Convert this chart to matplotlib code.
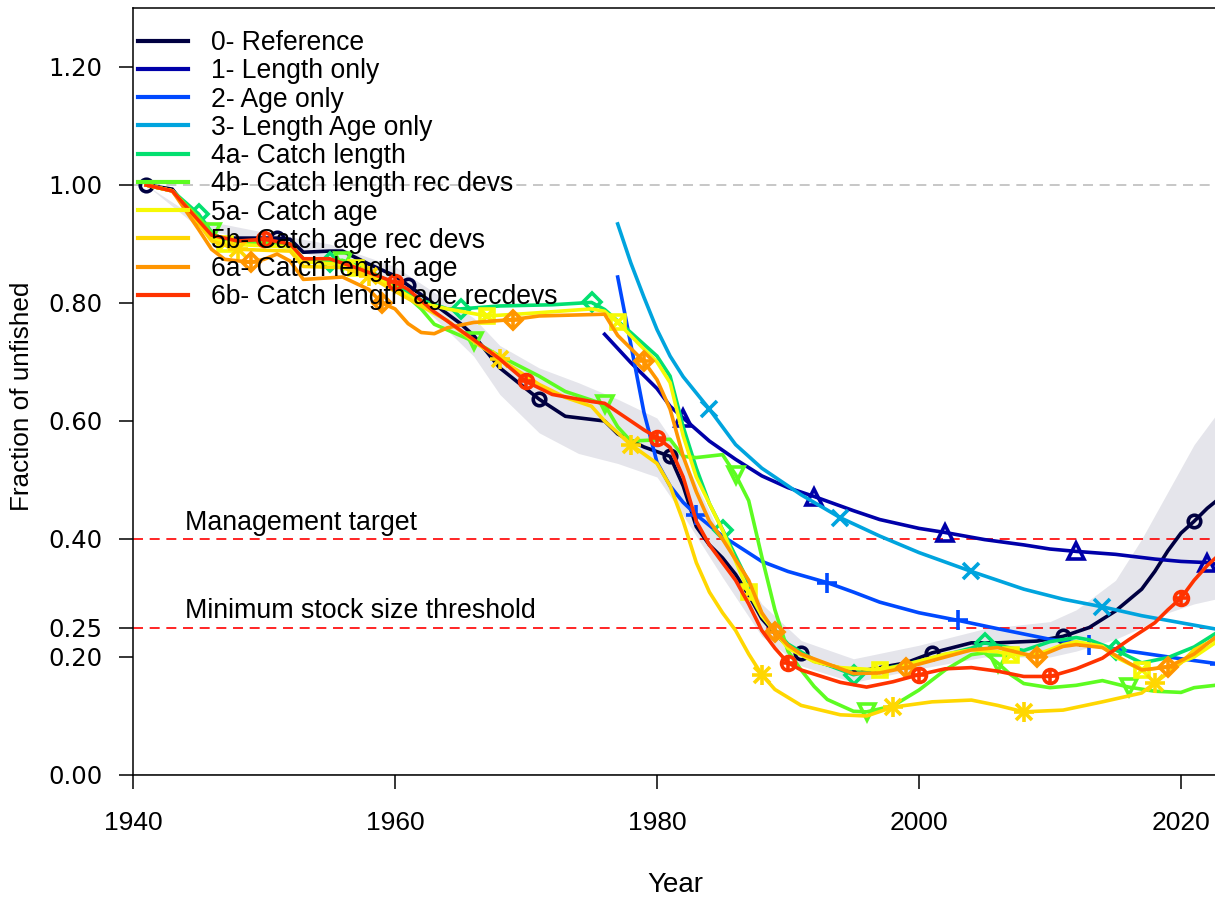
import matplotlib
matplotlib.use("Agg")
import matplotlib.pyplot as plt
from matplotlib.lines import Line2D

# ---------------- data ----------------
labels = ["0- Reference", "1- Length only", "2- Age only", "3- Length Age only",
          "4a- Catch length", "4b- Catch length rec devs", "5a- Catch age",
          "5b- Catch age rec devs", "6a- Catch length age", "6b- Catch length age recdevs"]

yrs0 = [1941,1943,1944,1945,1946,1947,1951,1952,1953,1955,1956,1958,1960,1961,1963,1965,1966,1968,1971,1973,1976,1977,1979,1980,1981,1982,1983,1984,1985,1986,1987,1988,1989,1990,1991,1992,1995,1996,1999,2001,2004,2006,2009,2011,2013,2015,2017,2018,2019,2020,2021,2022,2023]
val0 = [1.000,0.993,0.965,0.935,0.915,0.910,0.910,0.908,0.886,0.888,0.888,0.866,0.846,0.830,0.798,0.765,0.745,0.690,0.637,0.608,0.600,0.578,0.556,0.548,0.540,0.490,0.421,0.390,0.368,0.340,0.305,0.265,0.240,0.218,0.207,0.193,0.175,0.178,0.190,0.207,0.224,0.224,0.227,0.235,0.250,0.278,0.315,0.345,0.380,0.410,0.430,0.452,0.470]

yrs1 = [1976,1978,1980,1981,1982,1984,1986,1988,1990,1992,1995,1997,2000,2002,2005,2008,2010,2012,2015,2018,2020,2022,2023]
val1 = [0.747,0.699,0.655,0.625,0.605,0.566,0.535,0.507,0.487,0.472,0.448,0.433,0.418,0.411,0.399,0.390,0.383,0.379,0.374,0.366,0.362,0.360,0.356]

yrs2 = [1977,1978,1979,1980,1981,1982,1983,1985,1988,1990,1993,1995,1997,2000,2003,2006,2010,2013,2016,2020,2023]
val2 = [0.844,0.730,0.615,0.530,0.490,0.462,0.441,0.405,0.362,0.345,0.326,0.310,0.293,0.275,0.262,0.248,0.230,0.221,0.210,0.197,0.188]

yrs3 = [1977,1978,1979,1980,1981,1982,1984,1986,1988,1991,1994,1997,2000,2004,2008,2011,2014,2017,2020,2023]
val3 = [0.934,0.868,0.810,0.755,0.710,0.675,0.620,0.560,0.520,0.475,0.436,0.405,0.377,0.345,0.315,0.298,0.285,0.270,0.258,0.246]

yrs4a = [1941,1943,1945,1946,1947,1952,1953,1955,1956,1958,1960,1962,1964,1965,1968,1972,1975,1976,1978,1980,1981,1982,1983,1984,1985,1987,1988,1990,1992,1995,1998,2001,2004,2005,2008,2010,2012,2013,2015,2017,2019,2021,2023]
val4a = [1.000,0.990,0.951,0.920,0.905,0.900,0.875,0.869,0.872,0.855,0.830,0.805,0.790,0.790,0.795,0.797,0.801,0.789,0.750,0.710,0.676,0.590,0.520,0.460,0.416,0.326,0.270,0.222,0.195,0.170,0.183,0.198,0.215,0.224,0.211,0.226,0.233,0.229,0.212,0.190,0.199,0.217,0.245]

yrs4b = [1941,1943,1945,1946,1947,1952,1953,1956,1958,1960,1962,1963,1966,1968,1971,1973,1976,1977,1978,1980,1981,1982,1983,1985,1986,1987,1988,1989,1990,1991,1992,1993,1995,1996,1998,2000,2002,2004,2005,2006,2007,2008,2010,2012,2014,2016,2018,2020,2021,2023]
val4b = [1.000,0.990,0.945,0.920,0.905,0.900,0.875,0.872,0.855,0.830,0.790,0.764,0.735,0.710,0.676,0.650,0.628,0.590,0.566,0.568,0.569,0.540,0.538,0.543,0.509,0.465,0.370,0.280,0.210,0.178,0.150,0.128,0.108,0.107,0.117,0.144,0.178,0.204,0.207,0.190,0.170,0.155,0.148,0.152,0.160,0.149,0.142,0.140,0.148,0.153]

yrs5a = [1941,1943,1945,1946,1947,1952,1953,1956,1957,1958,1960,1962,1964,1967,1970,1975,1976,1977,1979,1980,1981,1982,1983,1984,1985,1987,1988,1990,1992,1994,1997,1999,2002,2004,2006,2007,2009,2011,2012,2014,2015,2017,2019,2021,2023]
val5a = [1.000,0.990,0.940,0.910,0.900,0.895,0.870,0.865,0.860,0.850,0.825,0.800,0.790,0.778,0.782,0.790,0.786,0.767,0.722,0.700,0.665,0.575,0.505,0.460,0.415,0.310,0.270,0.215,0.192,0.182,0.178,0.187,0.205,0.212,0.209,0.204,0.204,0.221,0.226,0.218,0.200,0.178,0.183,0.200,0.230]

yrs5b = [1941,1943,1945,1946,1948,1952,1953,1956,1958,1960,1962,1964,1966,1968,1971,1973,1975,1976,1978,1980,1981,1982,1983,1984,1985,1986,1987,1988,1989,1991,1994,1996,1998,2001,2004,2006,2008,2011,2014,2017,2018,2020,2021,2023]
val5b = [1.000,0.990,0.935,0.905,0.891,0.888,0.862,0.860,0.845,0.820,0.795,0.770,0.735,0.705,0.662,0.640,0.625,0.600,0.560,0.528,0.490,0.430,0.360,0.310,0.275,0.245,0.205,0.170,0.145,0.118,0.102,0.100,0.115,0.124,0.127,0.118,0.107,0.110,0.124,0.139,0.156,0.190,0.212,0.235]

yrs6a = [1941,1943,1945,1946,1947,1949,1950,1951,1952,1953,1956,1958,1959,1960,1961,1962,1963,1964,1966,1969,1971,1976,1977,1979,1980,1981,1982,1983,1984,1985,1987,1988,1989,1990,1991,1995,1997,1999,2001,2004,2006,2009,2011,2012,2014,2016,2017,2019,2021,2023]
val6a = [1.000,0.990,0.925,0.891,0.874,0.869,0.874,0.883,0.871,0.840,0.844,0.823,0.800,0.790,0.765,0.750,0.748,0.758,0.767,0.772,0.778,0.781,0.745,0.701,0.670,0.620,0.540,0.480,0.430,0.400,0.330,0.275,0.243,0.220,0.205,0.172,0.173,0.182,0.194,0.212,0.216,0.200,0.218,0.221,0.216,0.190,0.178,0.183,0.205,0.240]

yrs6b = [1941,1943,1945,1946,1948,1950,1952,1953,1955,1957,1960,1961,1963,1966,1968,1970,1972,1975,1976,1977,1979,1980,1981,1982,1983,1984,1985,1986,1987,1988,1989,1990,1991,1994,1996,1998,2000,2002,2004,2006,2008,2010,2012,2014,2016,2018,2019,2020,2021,2022,2023]
val6b = [1.000,0.990,0.940,0.915,0.905,0.908,0.900,0.875,0.875,0.860,0.835,0.823,0.785,0.738,0.705,0.667,0.645,0.633,0.630,0.615,0.585,0.572,0.555,0.505,0.430,0.390,0.360,0.330,0.290,0.245,0.215,0.190,0.178,0.157,0.149,0.158,0.170,0.180,0.182,0.176,0.167,0.167,0.180,0.198,0.229,0.258,0.280,0.300,0.330,0.355,0.375]

# uncertainty band around the reference model
band_yrs = [1941,1945,1950,1955,1960,1963,1966,1968,1971,1974,1977,1980,1982,1985,1988,1991,1995,2000,2005,2010,2012,2015,2017,2019,2021,2023]
band_lo  = [1.000,0.928,0.900,0.875,0.828,0.775,0.710,0.645,0.580,0.545,0.528,0.505,0.440,0.335,0.235,0.185,0.157,0.180,0.200,0.200,0.210,0.230,0.250,0.275,0.290,0.300]
band_hi  = [1.000,0.942,0.920,0.900,0.862,0.818,0.775,0.728,0.690,0.665,0.637,0.605,0.540,0.400,0.290,0.228,0.197,0.220,0.248,0.260,0.280,0.330,0.400,0.480,0.560,0.620]

ref_levels = [0.40, 0.25]
ref_texts = ["Management target", "Minimum stock size threshold"]
yticks = [0.0, 0.2, 0.25, 0.4, 0.6, 0.8, 1.0, 1.2]
xticks = [1940, 1960, 1980, 2000, 2020]

# ---------------- style ----------------
colors = ['#000041', '#0000A9', '#0049FF', '#00A4DE', '#03E070',
          '#5DFC21', '#F6F905', '#FFD701', '#FF9500', '#FF3300']
marker_layers = [
    [('o', 9, 'none')],
    [('^', 11, 'none')],
    [('+', 15, None)],
    [('x', 12, None)],
    [('D', 9, 'none')],
    [('v', 11, 'none')],
    [('s', 9.5, 'none'), ('x', 8, None)],
    [('+', 15, None), ('x', 11, None)],
    [('D', 9, 'none'), ('+', 12, None)],
    [('o', 10, 'none'), ('+', 10, None)],
]
series = [(yrs0, val0), (yrs1, val1), (yrs2, val2), (yrs3, val3), (yrs4a, val4a),
          (yrs4b, val4b), (yrs5a, val5a), (yrs5b, val5b), (yrs6a, val6a), (yrs6b, val6b)]

FONT = ['Liberation Sans', 'DejaVu Sans']
plt.rcParams['font.family'] = FONT

W, H = 1215, 900
fig = plt.figure(figsize=(W / 100, H / 100), dpi=100)
ax_left, ax_bottom, ax_top = 133, 775, 8
px_per_year = 13.1
x0, x1 = 1940, 2030
ax_w_px = (x1 - x0) * px_per_year
ax_h_px = ax_bottom - ax_top
ax = fig.add_axes([ax_left / W, (H - ax_bottom) / H, ax_w_px / W, ax_h_px / H])
ax.set_xlim(x0, x1)
ax.set_ylim(0, 1.3)

LW = 2.6
ax.fill_between(band_yrs, band_lo, band_hi, color=colors[0], alpha=0.1, lw=0, zorder=1)
ax.axhline(1.0, color='#BEBEBE', lw=1.2, ls=(0, (6, 4)), zorder=1.5)
ax.axhline(0.0, color='#BEBEBE', lw=1.2, zorder=1.5)
for lev, txt in zip(ref_levels, ref_texts):
    ax.axhline(lev, color='#FF0000', lw=1.2, ls=(0, (6, 4)), zorder=1.5)
    ax.text(1944, lev + 0.016, txt, fontsize=19.3, va='baseline', ha='left', zorder=5)

handles = []
for i, ((yrs, vals), col, lab) in enumerate(zip(series, colors, labels)):
    ax.plot(yrs, vals, color=col, lw=LW, zorder=3 + i * 0.1, solid_joinstyle='round')
    idx = [k for k, y in enumerate(yrs) if (y - 1941 - i) % 10 == 0]
    for mk, ms, fill in marker_layers[i]:
        kw = dict(ls='none', marker=mk, ms=ms, mew=LW, color=col, markevery=idx,
                  zorder=3.05 + i * 0.1)
        if fill == 'none':
            kw['mfc'] = 'none'
        ax.plot(yrs, vals, **kw)
    handles.append(Line2D([], [], color=col, lw=LW + 0.4, label=lab))

LEG_FS = 19.1
leg = ax.legend(handles=handles, loc='upper left',
                bbox_to_anchor=((138 - ax_left) / ax_w_px, (ax_bottom - 30) / ax_h_px),
                frameon=False, fontsize=LEG_FS, handlelength=1.89, handletextpad=0.87,
                labelspacing=0.085, borderaxespad=0.0, borderpad=0.0)
leg.set_zorder(10)

ax.set_yticks(yticks)
ax.set_yticklabels([f"{v:.2f}" for v in yticks], fontsize=17.5, family=['DejaVu Sans'])
ax.set_xticks(xticks)
ax.set_xticklabels([str(v) for v in xticks], fontsize=19)
ax.tick_params(axis='both', direction='out', length=10, width=1.1, color='black')
ax.tick_params(axis='y', pad=12)
ax.tick_params(axis='x', pad=16)
for s in ax.spines.values():
    s.set_linewidth(1.1)

ax.set_xlabel("Year", fontsize=20)
ax.xaxis.set_label_coords((675 - ax_left) / ax_w_px, -(885 - ax_bottom) / ax_h_px)
ax.xaxis.label.set_va('center')
ax.set_ylabel("Fraction of unfished", fontsize=18.8)
ax.yaxis.set_label_coords(-(ax_left - 22) / ax_w_px, (ax_bottom - 396) / ax_h_px)
ax.yaxis.label.set_va('center')

fig.savefig("out.png", dpi=100)
